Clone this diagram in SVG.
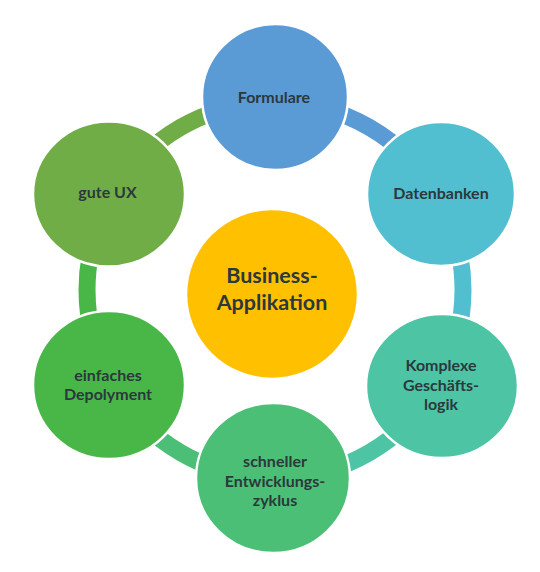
<svg xmlns="http://www.w3.org/2000/svg" width="540" height="572" viewBox="0 0 540 572">
<style>
.ring{fill:none;stroke-width:17}
.node{stroke:#ffffff;stroke-width:2.5}
.lbl{font-family:Lato,"Open Sans","Liberation Sans",sans-serif;font-weight:bold;font-size:16px;fill:#2b383c;text-anchor:middle}
.big{font-size:21.5px}
</style>
<rect width="540" height="572" fill="#ffffff"/>
<g id="connectors">
<path class="ring" stroke="#70ad47" d="M112.2,196 A188,188 0 0 1 275,102"/>
<path class="ring" stroke="#5b9bd5" d="M275,102 A188,188 0 0 1 437.8,196"/>
<path class="ring" stroke="#52bfd0" d="M437.8,196 A188,188 0 0 1 437.8,384"/>
<path class="ring" stroke="#4dc5a4" d="M437.8,384 A188,188 0 0 1 275,478"/>
<path class="ring" stroke="#4cbf76" d="M275,478 A188,188 0 0 1 112.2,384"/>
<path class="ring" stroke="#48b748" d="M112.2,384 A188,188 0 0 1 112.2,196"/>
</g>
<g id="center">
<ellipse class="node" cx="272" cy="294" rx="86" ry="85" fill="#ffc000"/>
<text class="lbl big" x="272" y="283">Business-</text>
<text class="lbl big" x="272" y="310">Applikation</text>
</g>
<g id="formulare">
<ellipse class="node" cx="275" cy="97" rx="73" ry="73" fill="#5b9bd5"/>
<text class="lbl" x="274" y="103">Formulare</text>
</g>
<g id="datenbanken">
<ellipse class="node" cx="441" cy="194" rx="74" ry="72" fill="#52bfd0"/>
<text class="lbl" x="441" y="199">Datenbanken</text>
</g>
<g id="komplexe">
<ellipse class="node" cx="442" cy="386" rx="76" ry="72" fill="#4dc5a4"/>
<text class="lbl" x="441" y="371">Komplexe</text>
<text class="lbl" x="441" y="391">Geschäfts-</text>
<text class="lbl" x="441" y="410">logik</text>
</g>
<g id="schneller">
<ellipse class="node" cx="273" cy="478" rx="77" ry="75" fill="#4cbf76"/>
<text class="lbl" x="275" y="467">schneller</text>
<text class="lbl" x="275" y="487">Entwicklungs-</text>
<text class="lbl" x="275" y="506">zyklus</text>
</g>
<g id="einfaches">
<ellipse class="node" cx="109" cy="385" rx="76" ry="74" fill="#48b748"/>
<text class="lbl" x="108" y="381">einfaches</text>
<text class="lbl" x="108" y="400">Depolyment</text>
</g>
<g id="guteux">
<ellipse class="node" cx="109" cy="194" rx="76" ry="72.5" fill="#70ad47"/>
<text class="lbl" x="107.5" y="198">gute UX</text>
</g>
</svg>
